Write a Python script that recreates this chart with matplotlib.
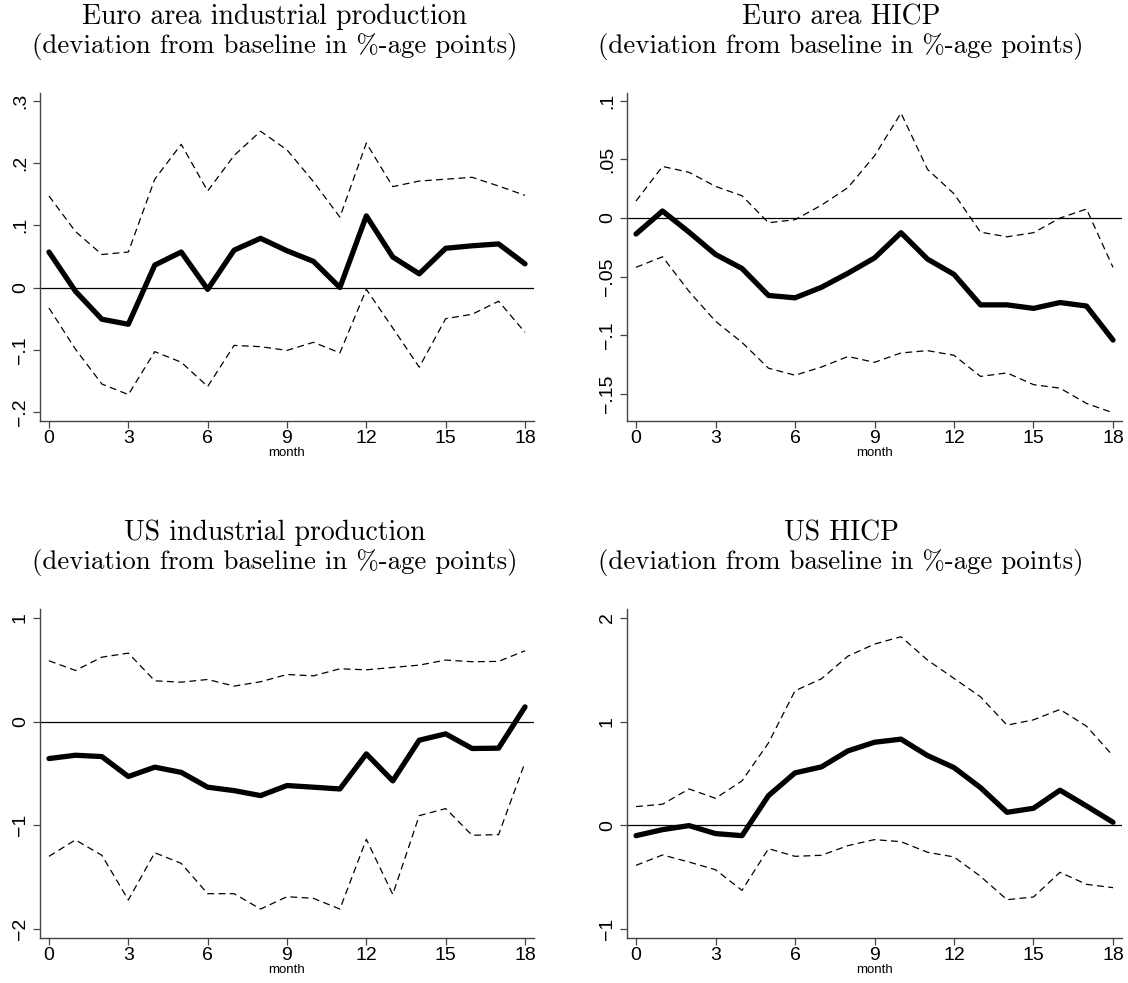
import matplotlib
matplotlib.use('Agg')
import matplotlib.pyplot as plt
from matplotlib.ticker import FixedLocator, FixedFormatter

months = list(range(19))

# euro area industrial production
ea_ip = [0.057, -0.006, -0.051, -0.059, 0.036, 0.057, -0.003, 0.060, 0.079, 0.059,
         0.042, 0.000, 0.115, 0.049, 0.022, 0.063, 0.067, 0.070, 0.038]
ea_ip_hi = [0.147, 0.090, 0.053, 0.057, 0.174, 0.230, 0.155, 0.212, 0.251, 0.221,
            0.170, 0.113, 0.232, 0.162, 0.171, 0.174, 0.177, 0.163, 0.148]
ea_ip_lo = [-0.033, -0.099, -0.155, -0.172, -0.103, -0.120, -0.159, -0.093, -0.095, -0.101,
            -0.088, -0.105, -0.003, -0.065, -0.128, -0.050, -0.043, -0.022, -0.072]

# euro area HICP
ea_cpi = [-0.0136, 0.006, -0.012, -0.031, -0.043, -0.066, -0.068, -0.059, -0.047, -0.034,
          -0.0125, -0.035, -0.048, -0.074, -0.074, -0.077, -0.072, -0.075, -0.104]
ea_cpi_hi = [0.0145, 0.044, 0.039, 0.027, 0.019, -0.004, -0.0014, 0.011, 0.026, 0.053,
             0.0895, 0.0415, 0.0207, -0.012, -0.016, -0.0125, 0.000, 0.0077, -0.042]
ea_cpi_lo = [-0.042, -0.033, -0.0625, -0.088, -0.106, -0.128, -0.134, -0.127, -0.118, -0.123,
             -0.115, -0.113, -0.117, -0.135, -0.132, -0.142, -0.145, -0.158, -0.166]

# US industrial production
us_ip = [-0.357, -0.325, -0.338, -0.530, -0.440, -0.490, -0.633, -0.666, -0.714, -0.617,
         -0.633, -0.650, -0.312, -0.572, -0.180, -0.119, -0.260, -0.257, 0.141]
us_ip_hi = [0.585, 0.492, 0.620, 0.659, 0.392, 0.379, 0.405, 0.341, 0.383, 0.453,
            0.440, 0.508, 0.498, 0.521, 0.543, 0.592, 0.576, 0.579, 0.682]
us_ip_lo = [-1.299, -1.141, -1.289, -1.720, -1.264, -1.367, -1.659, -1.659, -1.807, -1.688,
            -1.704, -1.807, -1.135, -1.666, -0.907, -0.839, -1.096, -1.090, -0.395]

# US HICP
us_cpi = [-0.100, -0.042, -0.003, -0.080, -0.100, 0.286, 0.505, 0.563, 0.717, 0.800,
          0.830, 0.672, 0.556, 0.363, 0.125, 0.164, 0.338, 0.186, 0.029]
us_cpi_hi = [0.180, 0.203, 0.350, 0.260, 0.428, 0.794, 1.296, 1.412, 1.630, 1.746,
             1.817, 1.592, 1.415, 1.238, 0.965, 1.016, 1.116, 0.955, 0.669]
us_cpi_lo = [-0.386, -0.286, -0.354, -0.428, -0.627, -0.225, -0.299, -0.289, -0.196, -0.138,
             -0.158, -0.260, -0.305, -0.492, -0.717, -0.691, -0.453, -0.569, -0.601]

titles = ["Euro area industrial production", "Euro area HICP",
          "US industrial production", "US HICP"]
subtitle = "(deviation from baseline in %-age points)"

yticks = [[-0.2, -0.1, 0, 0.1, 0.2, 0.3],
          [-0.15, -0.1, -0.05, 0, 0.05, 0.1],
          [-2, -1, 0, 1],
          [-1, 0, 1, 2]]
ylabels = [["\u2212.2", "\u2212.1", "0", ".1", ".2", ".3"],
           ["\u2212.15", "\u2212.1", "\u2212.05", "0", ".05", ".1"],
           ["\u22122", "\u22121", "0", "1"],
           ["\u22121", "0", "1", "2"]]
ylims = [(-0.2144, 0.3124), (-0.173, 0.1066), (-2.086, 1.084), (-1.086, 2.084)]

series = [(ea_ip, ea_ip_hi, ea_ip_lo), (ea_cpi, ea_cpi_hi, ea_cpi_lo),
          (us_ip, us_ip_hi, us_ip_lo), (us_cpi, us_cpi_hi, us_cpi_lo)]

plt.rcParams['font.family'] = ['Liberation Sans', 'DejaVu Sans']

W, H = 1128, 983
fig = plt.figure(figsize=(W / 100, H / 100), dpi=100)

# axes boxes in pixels: left, top, right, bottom
boxes = [(40, 93, 534, 421), (627, 93, 1122, 421),
         (40, 609, 534, 938), (627, 609, 1122, 938)]
title_x = [275, 841, 275, 841]
title_y = [17, 533]

spine_col = '#444444'

for i, (l, t, r, b) in enumerate(boxes):
    ax = fig.add_axes([l / W, 1 - b / H, (r - l) / W, (b - t) / H])
    mid, hi, lo = series[i]
    ax.axhline(0, color='black', lw=0.9, zorder=1)
    ax.plot(months, hi, color='black', lw=0.9, ls=(0, (5.5, 3.5)), zorder=2)
    ax.plot(months, lo, color='black', lw=0.9, ls=(0, (5.5, 3.5)), zorder=2)
    ax.plot(months, mid, color='black', lw=3.8, zorder=3,
            solid_joinstyle='round', solid_capstyle='round')

    ax.set_xlim(-0.34, 18.34)
    ax.set_ylim(*ylims[i])
    ax.set_xticks(range(0, 19, 3))
    ax.yaxis.set_major_locator(FixedLocator(yticks[i]))
    ax.yaxis.set_major_formatter(FixedFormatter(ylabels[i]))
    for lab in ax.get_yticklabels():
        lab.set_rotation(90)
        lab.set_va('center')
    ax.tick_params(axis='both', direction='out', length=5, width=0.9,
                   color=spine_col, labelsize=14)
    ax.tick_params(axis='x', pad=1.5)
    ax.tick_params(axis='y', pad=3)
    ax.set_xlabel('month', fontsize=9.5, labelpad=0)

    for s in ['top', 'right']:
        ax.spines[s].set_visible(False)
    for s in ['left', 'bottom']:
        ax.spines[s].set_color(spine_col)
        ax.spines[s].set_linewidth(1.0)

    ty = title_y[i // 2]
    fig.text(title_x[i] / W, 1 - ty / H, titles[i], family='cmr10',
             fontsize=20, ha='center', va='center')
    fig.text(title_x[i] / W, 1 - (ty + 30) / H, subtitle, family='cmr10',
             fontsize=19.4, ha='center', va='center')

fig.savefig('out.png', dpi=100)
